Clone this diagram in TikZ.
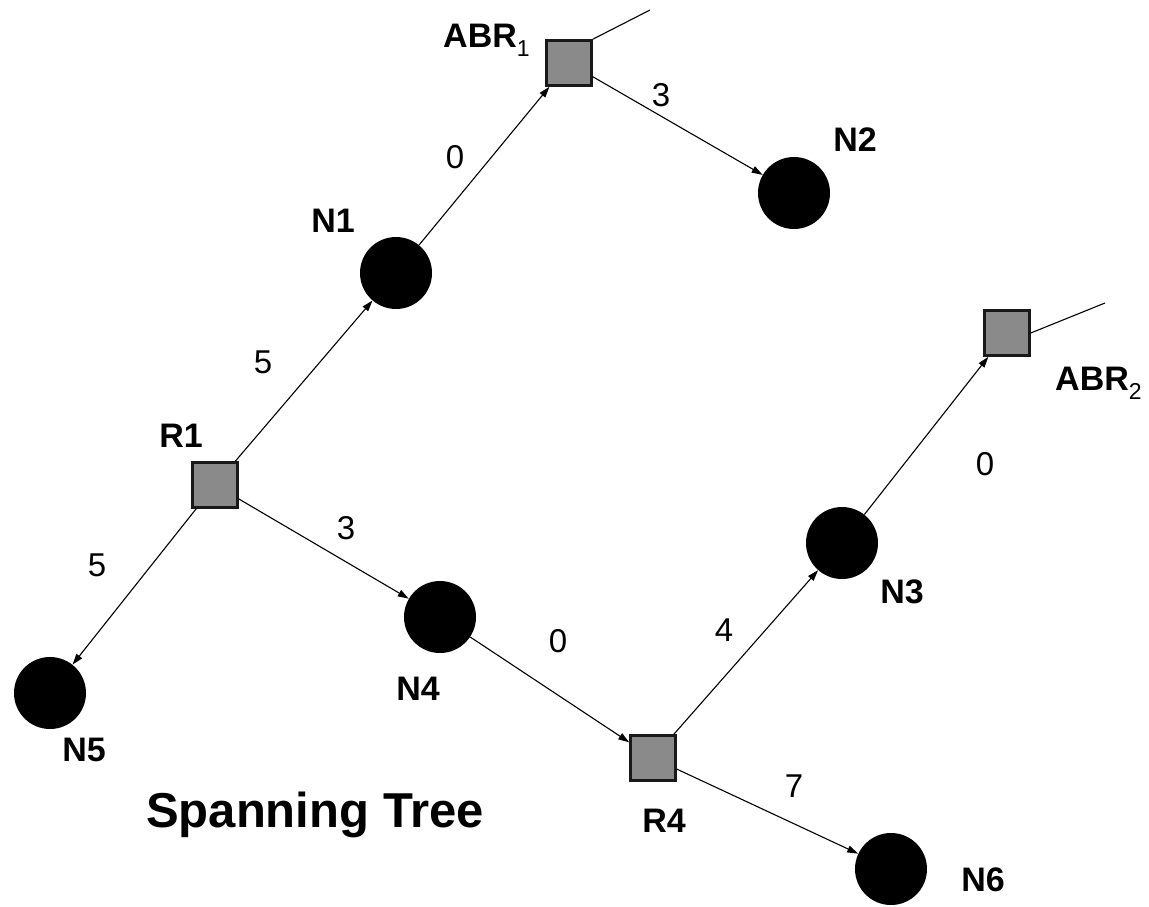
\documentclass[tikz,border=0pt]{standalone}
\usepackage{fontspec}
\setmainfont{Liberation Sans}
\usetikzlibrary{arrows.meta}
\definecolor{boxgray}{RGB}{138,138,138}
\newcommand{\lowsub}[1]{\raisebox{-9pt}{\fontsize{23}{23}\selectfont\mdseries #1}}
\begin{document}
\begin{tikzpicture}[x=1pt,y=-1pt,
  host/.style={circle, fill=black, minimum size=72pt, inner sep=0pt},
  router/.style={rectangle, draw=black!90, line width=2.5pt, fill=boxgray, minimum size=45pt, inner sep=0pt},
  link/.style={line width=1.1pt, -{Triangle[length=11pt,width=7pt]}},
  stub/.style={line width=1.1pt},
  tag/.style={font=\fontsize{34}{34}\selectfont\bfseries, inner sep=0pt},
  cost/.style={font=\fontsize{33}{33}\selectfont, inner sep=0pt},
  title/.style={font=\fontsize{49}{49}\selectfont\bfseries, inner sep=0pt}]
\useasboundingbox (0,0) rectangle (1149,907);

% routers
\node[router] (abr1) at (569,63) {};
\node[router] (r1)   at (215,485) {};
\node[router] (r4)   at (653,758) {};
\node[router] (abr2) at (1007,333) {};

% hosts
\node[host] (n1) at (396,273) {};
\node[host] (n2) at (794,193) {};
\node[host] (n3) at (842,543) {};
\node[host] (n4) at (440,617) {};
\node[host] (n5) at (50,693) {};
\node[host] (n6) at (891,869) {};

% links towards the rest of the network
\coordinate (abr1out) at (650,10);
\coordinate (abr2out) at (1105,303);
\draw[stub] (abr1.north east) -- (abr1out);
\draw[stub] (abr2.east) -- (abr2out);

% tree edges
\draw[link] (r1) -- (n1);
\draw[link] (r1) -- (n5);
\draw[link] (r1) -- (n4);
\draw[link] (n1) -- (abr1);
\draw[link] (abr1) -- (n2);
\draw[link] (n4) -- (r4);
\draw[link] (r4) -- (n3);
\draw[link] (r4) -- (n6);
\draw[link] (n3) -- (abr2);

% edge costs
\node[cost] (c1) at (455,157) {0};
\node[cost] (c2) at (661,95) {3};
\node[cost] (c3) at (263,362) {5};
\node[cost] (c4) at (97,565) {5};
\node[cost] (c5) at (346,528) {3};
\node[cost] (c6) at (558,641) {0};
\node[cost] (c7) at (724,630) {4};
\node[cost] (c8) at (794,786) {7};
\node[cost] (c9) at (985,464) {0};

% node names
\node[tag, anchor=base west] (labr1) at (443,48) {ABR\lowsub{1}};
\node[tag] (ln2) at (855,140) {N2};
\node[tag] (ln1) at (333,221) {N1};
\node[tag] (lr1) at (181,436) {R1};
\node[tag] (ln5) at (84,750) {N5};
\node[tag] (ln4) at (418,689) {N4};
\node[tag] (lr4) at (664,821) {R4};
\node[tag] (ln3) at (902,592) {N3};
\node[tag, anchor=base west] (labr2) at (1055,390) {ABR\lowsub{2}};
\node[tag] (ln6) at (983,880) {N6};

\node[title] (caption) at (315,815) {Spanning Tree};
\end{tikzpicture}
\end{document}
